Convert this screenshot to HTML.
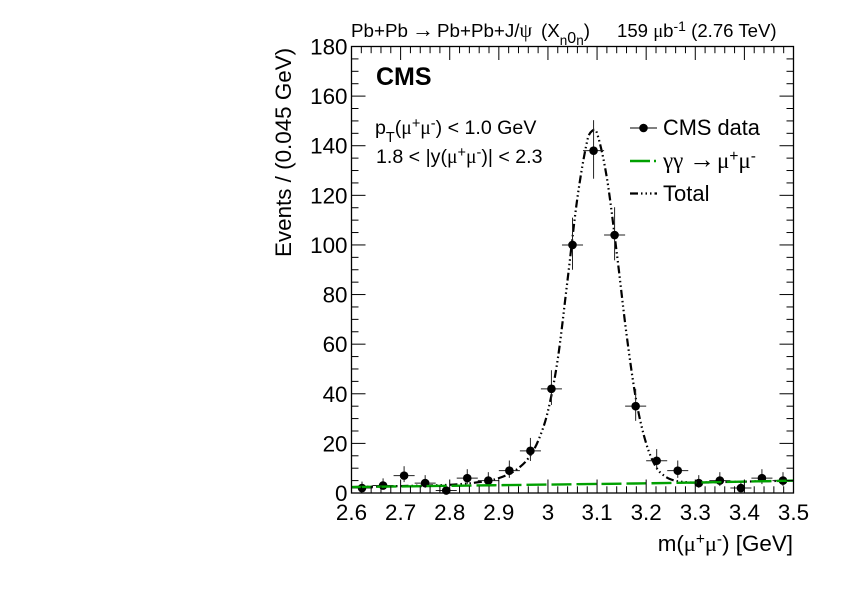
<!DOCTYPE html>
<html lang="en">
<head>
<meta charset="utf-8">
<title>CMS J/psi mass spectrum</title>
<style>
html,body{margin:0;padding:0;background:#fff;}
svg{display:block;}
text{font-family:"Liberation Sans",sans-serif;fill:#000;}
.g{font-family:"Liberation Serif",serif;}
.a{font-family:"Liberation Serif",serif;}
</style>
</head>
<body>
<svg id="chart" width="842" height="595" viewBox="0 0 842 595" xmlns="http://www.w3.org/2000/svg">
  <rect x="351.5" y="46.5" width="442" height="446.5" fill="#fff"/>
  <g id="marks"></g>
  <g id="axes"></g>
  <rect x="351.5" y="46.5" width="442" height="446.5" fill="none" stroke="#000" stroke-width="1.3"/>

  <text x="351" y="37" font-size="18.8">Pb+Pb<tspan class="a" x="412" font-size="22">→</tspan><tspan x="437">Pb+Pb+J/</tspan><tspan class="g" font-size="20">ψ</tspan><tspan x="541">(X</tspan><tspan dy="8" font-size="13.5">n</tspan><tspan dy="-2" font-size="16">0</tspan><tspan dy="2" font-size="13.5">n</tspan><tspan dy="-8">)</tspan></text>
  <text x="617" y="37" font-size="18.6">159 <tspan class="g">μ</tspan>b<tspan dy="-6" font-size="14">-1</tspan><tspan dy="6"> (2.76 TeV)</tspan></text>
  <text x="376" y="85" font-size="25" font-weight="bold">CMS</text>
  <text x="375" y="134" font-size="19.6">p<tspan dy="8" font-size="14.5">T</tspan><tspan dy="-8">(</tspan><tspan class="g">μ</tspan><tspan dy="-6" font-size="14.5">+</tspan><tspan class="g" dy="6">μ</tspan><tspan dy="-6" font-size="14.5">-</tspan><tspan dy="6">) &lt; 1.0 GeV</tspan></text>
  <text x="376" y="163" font-size="19.6">1.8 &lt; |y(<tspan class="g">μ</tspan><tspan dy="-6" font-size="14.5">+</tspan><tspan class="g" dy="6">μ</tspan><tspan dy="-6" font-size="14.5">-</tspan><tspan dy="6">)| &lt; 2.3</tspan></text>

  <text transform="translate(291,257) rotate(-90)" x="0" y="0" font-size="22.4">Events / (0.045 GeV)</text>
  <text x="793" y="551" font-size="22.4" text-anchor="end">m(<tspan class="g">μ</tspan><tspan dy="-7" font-size="15.5">+</tspan><tspan class="g" dy="7">μ</tspan><tspan dy="-7" font-size="15.5">-</tspan><tspan dy="7">) [GeV]</tspan></text>

  <g>
    <g>
      <line x1="630" x2="657" y1="128" y2="128" stroke="#000" stroke-width="1"/>
      <circle cx="643.5" cy="128" r="4.3" fill="#000"/>
      <text x="663" y="135" font-size="21.8">CMS data</text>
    </g>
    <g>
      <line x1="630" x2="657" y1="161" y2="161" stroke="#00a000" stroke-width="2.4" stroke-dasharray="20 4 2 10"/>
      <text x="663" y="168" font-size="23"><tspan class="g">γγ</tspan><tspan class="a" x="689" font-size="26">→</tspan><tspan class="g" x="717">μ</tspan><tspan dy="-7" font-size="15.5">+</tspan><tspan class="g" dy="7">μ</tspan><tspan dy="-7" font-size="15.5">-</tspan></text>
    </g>
    <g>
      <line x1="630" x2="657" y1="193.5" y2="193.5" stroke="#000" stroke-width="2.2" stroke-dasharray="8 3 1.5 3 1.5 3 1.5 3"/>
      <text x="663" y="201" font-size="22">Total</text>
    </g>
  </g>
</svg>
<script>
const binCenters = [2.6214,2.6643,2.7071,2.75,2.7929,2.8357,2.8786,2.9214,2.9643,3.0071,3.05,3.0929,3.1357,3.1786,3.2214,3.2643,3.3071,3.35,3.3929,3.4357,3.4786];
const dataCounts = [2,3,7,4,1,6,5,9,17,42,100,138,104,35,13,9,4,5,2,6,5];
const errorUp = [2.6,2.9,3.8,3.2,2.3,3.6,3.4,4.1,5.2,7.5,11,12.3,11.2,7,4.7,4.1,3.2,3.4,2.6,3.6,3.4];
const errorDown = [1.3,1.6,2.6,1.9,0.8,2.4,2.2,2.9,4.1,6.5,10,11.3,10.2,5.9,3.6,2.9,1.9,2.2,1.3,2.4,2.2];
const halfBinWidth = 0.02143;

const curveMass = [2.6,2.65,2.7,2.75,2.8,2.84,2.88,2.9,2.92,2.94,2.96,2.98,3.0,3.02,3.04,3.06,3.08,3.09,3.1,3.12,3.14,3.16,3.18,3.2,3.22,3.24,3.26,3.28,3.3,3.35,3.4,3.45,3.5];
const totalValues = [2.4,2.6,2.8,3.0,3.3,3.9,5.0,6.0,7.6,10,14,21,33,54,86,119,142,146,145,127,97,64,37,20,10.5,6.5,4.9,4.4,4.2,4.4,4.6,4.8,5];
const gammaMass = [2.6,2.8,3.0,3.2,3.4,3.5];
const gammaValues = [2.4,2.9,3.4,3.9,4.6,5];

const xMajorTicks = [2.6,2.7,2.8,2.9,3.0,3.1,3.2,3.3,3.4,3.5];
const xTickLabels = ["2.6","2.7","2.8","2.9","3","3.1","3.2","3.3","3.4","3.5"];
const yMajorTicks = [0,20,40,60,80,100,120,140,160,180];
const yTickLabels = ["0","20","40","60","80","100","120","140","160","180"];

const NS = 'http://www.w3.org/2000/svg';
const xScale = m => 351.5 + (m - 2.6) / 0.9 * 442;
const yScale = v => 493 - v / 180 * 446.5;

function make(tag, attrs, parent) {
  const el = document.createElementNS(NS, tag);
  for (const k in attrs) el.setAttribute(k, attrs[k]);
  parent.appendChild(el);
  return el;
}
const axes = document.getElementById('axes');
const marks = document.getElementById('marks');

// x ticks
for (let i = 0; i < xMajorTicks.length; i++) {
  const x = xScale(xMajorTicks[i]);
  const bottom = make('line', {x1:x,x2:x,y1:493,y2:479.5,stroke:'#000','stroke-width':1}, axes);
  
  
  const top = make('line', {x1:x,x2:x,y1:46.5,y2:60,stroke:'#000','stroke-width':1}, axes);
  
  
  const label = make('text', {x:x,y:520,'font-size':22.4,'text-anchor':'middle'}, axes);
  
  
  label.textContent = xTickLabels[i];
  if (i < xMajorTicks.length - 1) {
    const step = (xMajorTicks[i + 1] - xMajorTicks[i]) / 5;
    for (let j = 1; j < 5; j++) {
      const mx = xScale(xMajorTicks[i] + step * j);
      const mb = make('line', {x1:mx,x2:mx,y1:493,y2:486.3,stroke:'#000','stroke-width':1}, axes);
      
      
      const mt = make('line', {x1:mx,x2:mx,y1:46.5,y2:53.2,stroke:'#000','stroke-width':1}, axes);
      
      
    }
  }
}
// y ticks
for (let i = 0; i < yMajorTicks.length; i++) {
  const y = yScale(yMajorTicks[i]);
  const left = make('line', {x1:351.5,x2:365.5,y1:y,y2:y,stroke:'#000','stroke-width':1}, axes);
  
  
  const right = make('line', {x1:793.5,x2:779.5,y1:y,y2:y,stroke:'#000','stroke-width':1}, axes);
  
  
  const label = make('text', {x:347.5,y:y+8,'font-size':22.4,'text-anchor':'end'}, axes);
  
  
  label.textContent = yTickLabels[i];
  if (i < yMajorTicks.length - 1) {
    const step = (yMajorTicks[i + 1] - yMajorTicks[i]) / 4;
    for (let j = 1; j < 4; j++) {
      const my = yScale(yMajorTicks[i] + step * j);
      const ml = make('line', {x1:351.5,x2:358.5,y1:my,y2:my,stroke:'#000','stroke-width':1}, axes);
      
      
      const mr = make('line', {x1:793.5,x2:786.5,y1:my,y2:my,stroke:'#000','stroke-width':1}, axes);
      
      
    }
  }
}

// curves: smooth Catmull-Rom path through the sampled values
function pathFrom(xs, ys) {
  const p = xs.map((m, i) => [xScale(m), yScale(ys[i])]);
  let d = 'M' + p[0][0].toFixed(2) + ' ' + p[0][1].toFixed(2);
  for (let i = 0; i < p.length - 1; i++) {
    const a = p[Math.max(i - 1, 0)], b = p[i], c = p[i + 1], e = p[Math.min(i + 2, p.length - 1)];
    const seg = c[0] - b[0];
    const t1 = (c[1] - a[1]) / (c[0] - a[0]);
    const t2 = (e[1] - b[1]) / (e[0] - b[0]);
    d += ' C' + (b[0] + seg / 3).toFixed(2) + ' ' + (b[1] + t1 * seg / 3).toFixed(2) + ' ' +
         (c[0] - seg / 3).toFixed(2) + ' ' + (c[1] - t2 * seg / 3).toFixed(2) + ' ' +
         c[0].toFixed(2) + ' ' + c[1].toFixed(2);
  }
  return d;
}
const totalCurve = make('path', {d:pathFrom(curveMass, totalValues),fill:'none',stroke:'#000','stroke-width':2.2,'stroke-dasharray':'8 3 1.5 3 1.5 3 1.5 3'}, marks);



// data points
for (let i = 0; i < binCenters.length; i++) {
  const x = xScale(binCenters[i]);
  const y = yScale(dataCounts[i]);
  const g = make('g', {}, marks);
  
  
  make('line', {x1:xScale(binCenters[i]-halfBinWidth),x2:xScale(binCenters[i]+halfBinWidth),y1:y,y2:y,stroke:'#222','stroke-width':1}, g);
  make('line', {x1:x,x2:x,y1:yScale(dataCounts[i]+errorUp[i]),y2:yScale(dataCounts[i]-errorDown[i]),stroke:'#222','stroke-width':1}, g);
  make('circle', {cx:x,cy:y,r:4.3,fill:'#000'}, g);
}

const gammaCurve = make('path', {d:pathFrom(gammaMass, gammaValues),fill:'none',stroke:'#00a000','stroke-width':2.4,'stroke-dasharray':'20 5'}, marks);


</script>
</body>
</html>
